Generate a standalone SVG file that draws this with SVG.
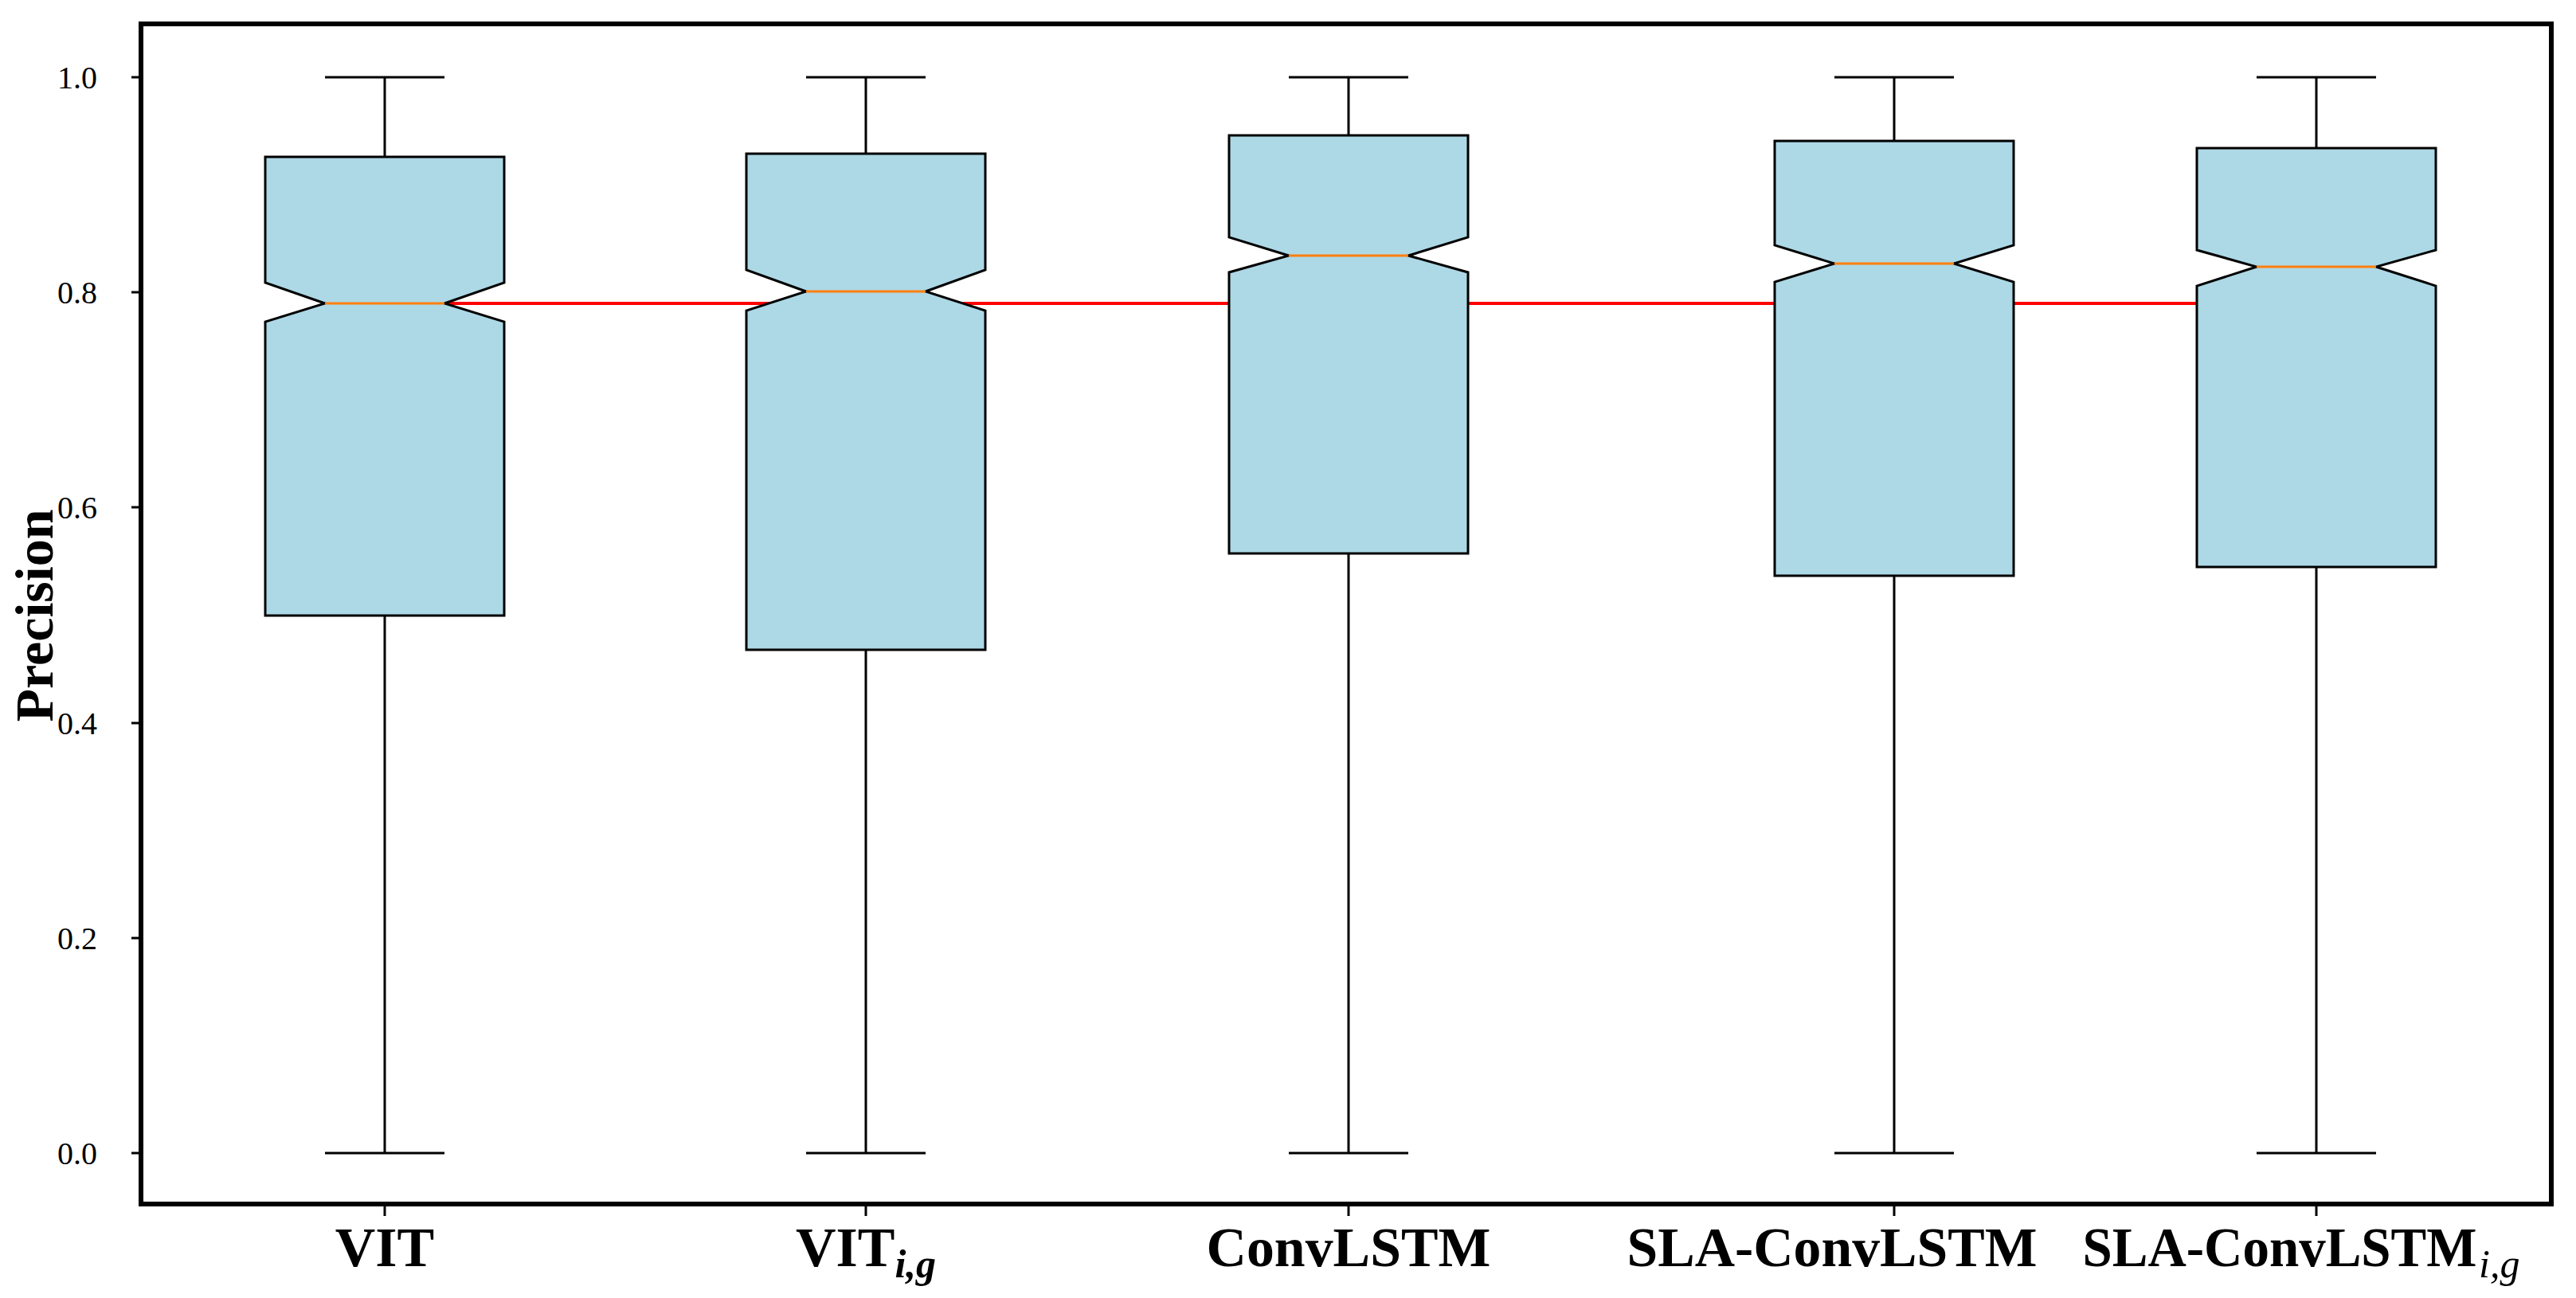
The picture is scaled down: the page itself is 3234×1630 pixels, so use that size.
<svg xmlns="http://www.w3.org/2000/svg" width="3234" height="1630" viewBox="0 0 3234 1630">
<style>
.box{fill:#add8e6;stroke:#000;stroke-width:3}
.wh{stroke:#000;stroke-width:3;fill:none}
.med{stroke:#ff7f0e;stroke-width:3}
.tk{font-family:"Liberation Serif",serif;font-size:40px;text-anchor:end}
.xl{font-family:"Liberation Serif",serif;font-size:70px;font-weight:bold;text-anchor:middle}
.sub{font-family:"Liberation Serif",serif;font-size:50px;font-style:italic}
</style>
<rect width="3234" height="1630" fill="#fff"/>
<line x1="483" y1="381" x2="2908" y2="381" stroke="#ff0000" stroke-width="4"/>
<g id="yaxis">
<g class="wh"><line x1="165" y1="97" x2="177" y2="97"/><line x1="165" y1="367" x2="177" y2="367"/><line x1="165" y1="637" x2="177" y2="637"/><line x1="165" y1="908" x2="177" y2="908"/><line x1="165" y1="1178" x2="177" y2="1178"/><line x1="165" y1="1448" x2="177" y2="1448"/></g>
<text class="tk" x="122" y="111">1.0</text>
<text class="tk" x="122" y="381">0.8</text>
<text class="tk" x="122" y="651">0.6</text>
<text class="tk" x="122" y="922">0.4</text>
<text class="tk" x="122" y="1192">0.2</text>
<text class="tk" x="122" y="1462">0.0</text>
<text x="66" y="773" transform="rotate(-90 66 773)" font-family="Liberation Serif,serif" font-size="68" font-weight="bold" text-anchor="middle">Precision</text>
</g>
<g id="box1">
<line class="wh" x1="483" y1="97" x2="483" y2="197"/><line class="wh" x1="483" y1="1448" x2="483" y2="773"/>
<line class="wh" x1="408" y1="97" x2="558" y2="97"/><line class="wh" x1="408" y1="1448" x2="558" y2="1448"/>
<polygon class="box" points="333,197 633,197 633,355 558,381 633,404 633,773 333,773 333,404 408,381 333,355"/>
<line class="med" x1="408" y1="381" x2="558" y2="381"/>
</g>
<g id="box2">
<line class="wh" x1="1087" y1="97" x2="1087" y2="193"/><line class="wh" x1="1087" y1="1448" x2="1087" y2="816"/>
<line class="wh" x1="1012" y1="97" x2="1162" y2="97"/><line class="wh" x1="1012" y1="1448" x2="1162" y2="1448"/>
<polygon class="box" points="937,193 1237,193 1237,339 1162,366 1237,390 1237,816 937,816 937,390 1012,366 937,339"/>
<line class="med" x1="1012" y1="366" x2="1162" y2="366"/>
</g>
<g id="box3">
<line class="wh" x1="1693" y1="97" x2="1693" y2="170"/><line class="wh" x1="1693" y1="1448" x2="1693" y2="695"/>
<line class="wh" x1="1618" y1="97" x2="1768" y2="97"/><line class="wh" x1="1618" y1="1448" x2="1768" y2="1448"/>
<polygon class="box" points="1543,170 1843,170 1843,298 1768,321 1843,342 1843,695 1543,695 1543,342 1618,321 1543,298"/>
<line class="med" x1="1618" y1="321" x2="1768" y2="321"/>
</g>
<g id="box4">
<line class="wh" x1="2378" y1="97" x2="2378" y2="177"/><line class="wh" x1="2378" y1="1448" x2="2378" y2="723"/>
<line class="wh" x1="2303" y1="97" x2="2453" y2="97"/><line class="wh" x1="2303" y1="1448" x2="2453" y2="1448"/>
<polygon class="box" points="2228,177 2528,177 2528,308 2453,331 2528,354 2528,723 2228,723 2228,354 2303,331 2228,308"/>
<line class="med" x1="2303" y1="331" x2="2453" y2="331"/>
</g>
<g id="box5">
<line class="wh" x1="2908" y1="97" x2="2908" y2="186"/><line class="wh" x1="2908" y1="1448" x2="2908" y2="712"/>
<line class="wh" x1="2833" y1="97" x2="2983" y2="97"/><line class="wh" x1="2833" y1="1448" x2="2983" y2="1448"/>
<polygon class="box" points="2758,186 3058,186 3058,314 2983,335 3058,359 3058,712 2758,712 2758,359 2833,335 2758,314"/>
<line class="med" x1="2833" y1="335" x2="2983" y2="335"/>
</g>
<rect x="177" y="30" width="3026" height="1482" fill="none" stroke="#000" stroke-width="6"/>
<g id="xaxis" class="wh">
<line x1="483" y1="1515" x2="483" y2="1527"/><line x1="1087" y1="1515" x2="1087" y2="1527"/><line x1="1693" y1="1515" x2="1693" y2="1527"/><line x1="2378" y1="1515" x2="2378" y2="1527"/><line x1="2908" y1="1515" x2="2908" y2="1527"/>
</g>
<text class="xl" x="483" y="1590">VIT</text>
<text class="xl" x="1087" y="1590">VIT<tspan class="sub" dy="14">i,g</tspan></text>
<text class="xl" x="1693" y="1590" textLength="357" lengthAdjust="spacingAndGlyphs">ConvLSTM</text>
<text class="xl" x="2300" y="1590" textLength="515" lengthAdjust="spacingAndGlyphs">SLA-ConvLSTM</text>
<text class="xl" x="2862" y="1590" textLength="495" lengthAdjust="spacingAndGlyphs">SLA-ConvLSTM</text>
<text class="sub" x="3112" y="1604">i,g</text>
</svg>
